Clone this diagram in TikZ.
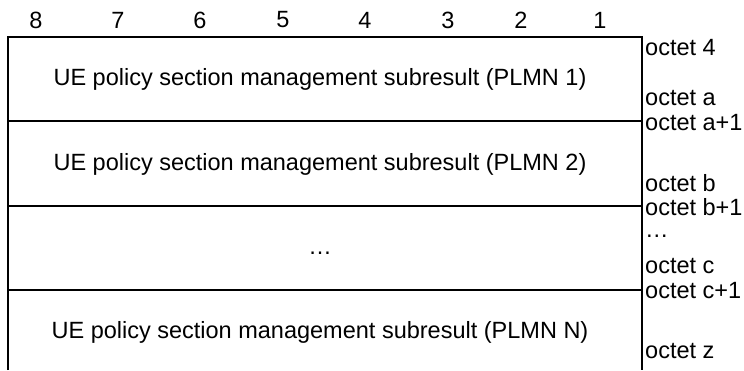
\documentclass[tikz,border=0pt]{standalone}
\usepackage{fontspec}
\setmainfont{Liberation Sans}
\begin{document}
\begin{tikzpicture}[x=1pt,y=-1pt,
  lbl/.style={inner sep=0pt,font=\fontsize{23.5}{26}\selectfont},
  oct/.style={inner sep=0pt,anchor=west,font=\fontsize{23.5}{26}\selectfont},
  frame/.style={line width=1.5pt}]
\useasboundingbox (0,0) rectangle (744,370);
% bit numbers
\foreach \n/\x in {8/36,7/118,6/200,5/283,4/365,3/448,2/521,1/600}
  \node[lbl] (b\n) at (\x,20) {\n};
% frame
\coordinate (tl) at (8,37);
\coordinate (tr) at (642,37);
\coordinate (bl) at (8,370);
\coordinate (br) at (642,370);
\coordinate (l1) at (8,121);  \coordinate (r1) at (642,121);
\coordinate (l2) at (8,206);  \coordinate (r2) at (642,206);
\coordinate (l3) at (8,290);  \coordinate (r3) at (642,290);
\draw[frame] (bl) -- (tl) -- (tr) -- (br);
\draw[frame] (l1) -- (r1);
\draw[frame] (l2) -- (r2);
\draw[frame] (l3) -- (r3);
% field texts
\node[lbl] (f1) at (320,79) {UE policy section management subresult (PLMN 1)};
\node[lbl] (f2) at (320,164) {UE policy section management subresult (PLMN 2)};
\node[lbl] (f3) at (320,253) {…};
\node[lbl] (f4) at (320,332) {UE policy section management subresult (PLMN N)};
% octet labels
\node[oct] (o1) at (645,48) {octet 4};
\node[oct] (o2) at (645,98) {octet a};
\node[oct] (o3) at (645,123) {octet a+1};
\node[oct] (o4) at (645,183) {octet b};
\node[oct] (o5) at (645,207) {octet b+1};
\node[oct] (o6) at (645,236) {…};
\node[oct] (o7) at (645,266) {octet c};
\node[oct] (o8) at (645,291) {octet c+1};
\node[oct] (o9) at (645,351) {octet z};
\end{tikzpicture}
\end{document}
